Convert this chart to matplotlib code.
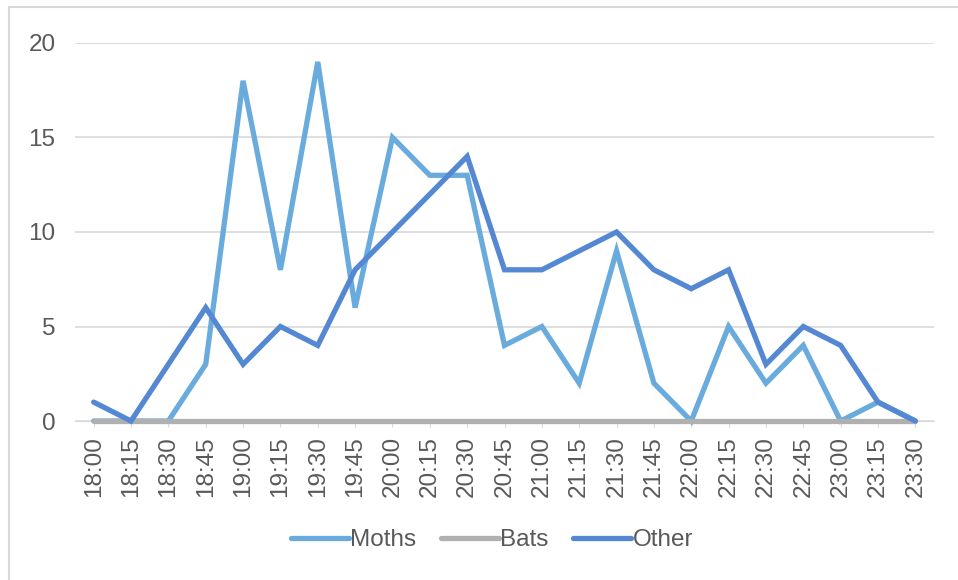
import matplotlib
matplotlib.use("Agg")
import matplotlib.pyplot as plt
from matplotlib.patches import Rectangle

times = ["18:00", "18:15", "18:30", "18:45", "19:00", "19:15", "19:30", "19:45",
         "20:00", "20:15", "20:30", "20:45", "21:00", "21:15", "21:30", "21:45",
         "22:00", "22:15", "22:30", "22:45", "23:00", "23:15", "23:30"]
moths = [0, 0, 0, 3, 18, 8, 19, 6, 15, 13, 13, 4, 5, 2, 9, 2, 0, 5, 2, 4, 0, 1, 0]
bats = [0] * 23
other = [1, 0, 3, 6, 3, 5, 4, 8, 10, 12, 14, 8, 8, 9, 10, 8, 7, 8, 3, 5, 4, 1, 0]
y_ticks = [0, 5, 10, 15, 20]

plt.rcParams["font.family"] = ["Liberation Sans", "DejaVu Sans"]
text_color = "#595959"
grid_color = "#D9D9D9"
fs = 17.5

fig = plt.figure(figsize=(9.58, 5.8), dpi=100)
# chart frame (its right and bottom edges run past the canvas)
fig.patches.append(Rectangle((9 / 958, -0.05), 1.0, 1 - 7 / 580 + 0.05,
                             transform=fig.transFigure, fill=False,
                             edgecolor="#D9D9D9", linewidth=1.5))

ax = fig.add_axes([75 / 958, 1 - 421 / 580, (934 - 75) / 958, (421 - 43) / 580])
x = list(range(len(times)))

# series are stacked in plotting order: Moths, then Bats, then Other on top
lw = 3.8
ax.plot(x, moths, color="#6AABDD", lw=lw, label="Moths", solid_capstyle="round",
        solid_joinstyle="miter", zorder=3, clip_on=False)
ax.plot(x, bats, color="#B0B0B0", lw=lw, label="Bats", solid_capstyle="round",
        zorder=4, clip_on=False)
ax.plot(x, other, color="#5588D2", lw=lw, label="Other", solid_capstyle="round",
        solid_joinstyle="miter", zorder=5, clip_on=False)

ax.set_xlim(-0.5, len(times) - 0.5)
ax.set_ylim(0, 20)
ax.set_yticks(y_ticks)
ax.set_xticks(x)
ax.set_xticklabels(times, rotation=90)
ax.grid(axis="y", color=grid_color, lw=1.2)
ax.set_axisbelow(True)
for s in ["top", "right", "left"]:
    ax.spines[s].set_visible(False)
ax.spines["bottom"].set_color(grid_color)
ax.spines["bottom"].set_zorder(1)
ax.tick_params(axis="y", length=0, labelsize=fs, labelcolor=text_color, pad=14)
ax.tick_params(axis="x", length=4, color=grid_color, labelsize=fs,
               labelcolor=text_color, pad=7)

leg = fig.legend(loc="center", bbox_to_anchor=(492 / 958, 1 - 540 / 580), ncol=3,
                 frameon=False, fontsize=fs, handlelength=2.4, handletextpad=0.05,
                 columnspacing=1.0)
for t in leg.get_texts():
    t.set_color(text_color)

fig.savefig("out.png", dpi=100)
